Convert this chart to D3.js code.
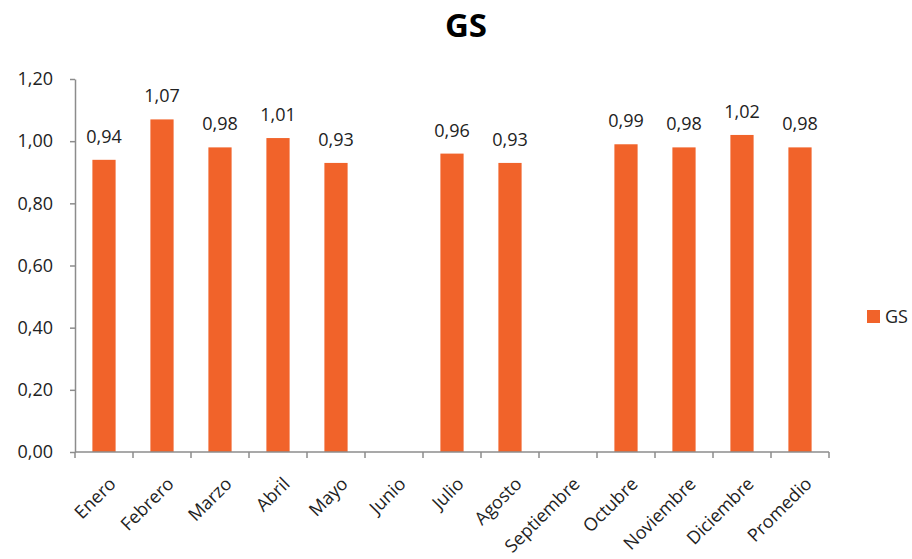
<!DOCTYPE html>
<html>
<head>
<meta charset="utf-8">
<script src="https://cdn.jsdelivr.net/npm/d3@7"></script>
<style>
  body { margin: 0; background: #fff; }
  text { font-family: "Open Sans", "Noto Sans", sans-serif; fill: #222; }
</style>
</head>
<body>
<svg width="912" height="559"></svg>
<script>
// Data
const months = ["Enero", "Febrero", "Marzo", "Abril", "Mayo", "Junio", "Julio",
  "Agosto", "Septiembre", "Octubre", "Noviembre", "Diciembre", "Promedio"];
const gsValues = [0.94, 1.07, 0.98, 1.01, 0.93, null, 0.96, 0.93, null, 0.99, 0.98, 1.02, 0.98];
const yTicks = [0, 0.2, 0.4, 0.6, 0.8, 1.0, 1.2];
const seriesName = "GS";

const svg = d3.select("svg");
const orange = "#F1632A";
const axisColor = "#8c8c8c";

const locale = d3.formatLocale({ decimal: ",", thousands: ".", grouping: [3], currency: ["", ""] });
const fmt = locale.format(".2f");

const x = d3.scaleBand()
    .domain(months)
    .range([75, 829])
    .paddingInner(0.6)
    .paddingOuter(0.3);

const y = d3.scaleLinear()
    .domain([0, 1.2])
    .range([452, 79]);

// Title
svg.append("text")
    .attr("x", 466)
    .attr("y", 37)
    .attr("text-anchor", "middle")
    .style("font-size", "33px")
    .style("font-weight", "bold")
    .style("fill", "#000")
    .text(seriesName);

// Y axis
const yAxis = svg.append("g")
    .attr("transform", "translate(75,0)")
    .call(d3.axisLeft(y).tickValues(yTicks).tickFormat(fmt).tickSize(5).tickSizeOuter(0));
yAxis.select(".domain").attr("stroke", axisColor).attr("stroke-width", 1.5);
yAxis.selectAll(".tick line").attr("stroke", axisColor).attr("stroke-width", 1.5);
yAxis.selectAll(".tick text")
    .attr("x", -22)
    .style("font-size", "18px")
    .style("font-family", "'Open Sans', sans-serif")
    .style("fill", "#222");

// Bars
const data = months.map((m, i) => ({ month: m, value: gsValues[i] }));
svg.append("g")
  .selectAll("rect")
  .data(data.filter(d => d.value != null))
  .join("rect")
    .attr("x", d => x(d.month))
    .attr("y", d => y(d.value))
    .attr("width", x.bandwidth())
    .attr("height", d => y(0) - y(d.value))
    .attr("fill", orange);

// Data labels
svg.append("g")
  .selectAll("text")
  .data(data.filter(d => d.value != null))
  .join("text")
    .attr("x", d => x(d.month) + x.bandwidth() / 2)
    .attr("y", d => y(d.value) - 17)
    .attr("text-anchor", "middle")
    .style("font-size", "18px")
    .text(d => fmt(d.value));

// X axis
const step = x.step();
const xAxis = svg.append("g")
    .attr("transform", "translate(0,452)");
xAxis.append("line")
    .attr("x1", 75).attr("x2", 829)
    .attr("stroke", axisColor).attr("stroke-width", 1.5);
xAxis.selectAll("line.tk")
  .data(d3.range(months.length + 1))
  .join("line")
    .attr("class", "tk")
    .attr("x1", i => 75 + i * step).attr("x2", i => 75 + i * step)
    .attr("y1", 0).attr("y2", 6)
    .attr("stroke", axisColor).attr("stroke-width", 1.5);
xAxis.selectAll("text")
  .data(months)
  .join("text")
    .attr("text-anchor", "end")
    .attr("transform", d => `translate(${x(d) + x.bandwidth() / 2 + 13},${33}) rotate(-45)`)
    .style("font-size", "18px")
    .text(d => d);

// Legend
const legend = svg.append("g").attr("transform", "translate(867,310)");
legend.append("rect")
    .attr("width", 13).attr("height", 13)
    .attr("fill", orange);
legend.append("text")
    .attr("x", 18).attr("y", 13)
    .style("font-size", "18px")
    .text(seriesName);
</script>
</body>
</html>
